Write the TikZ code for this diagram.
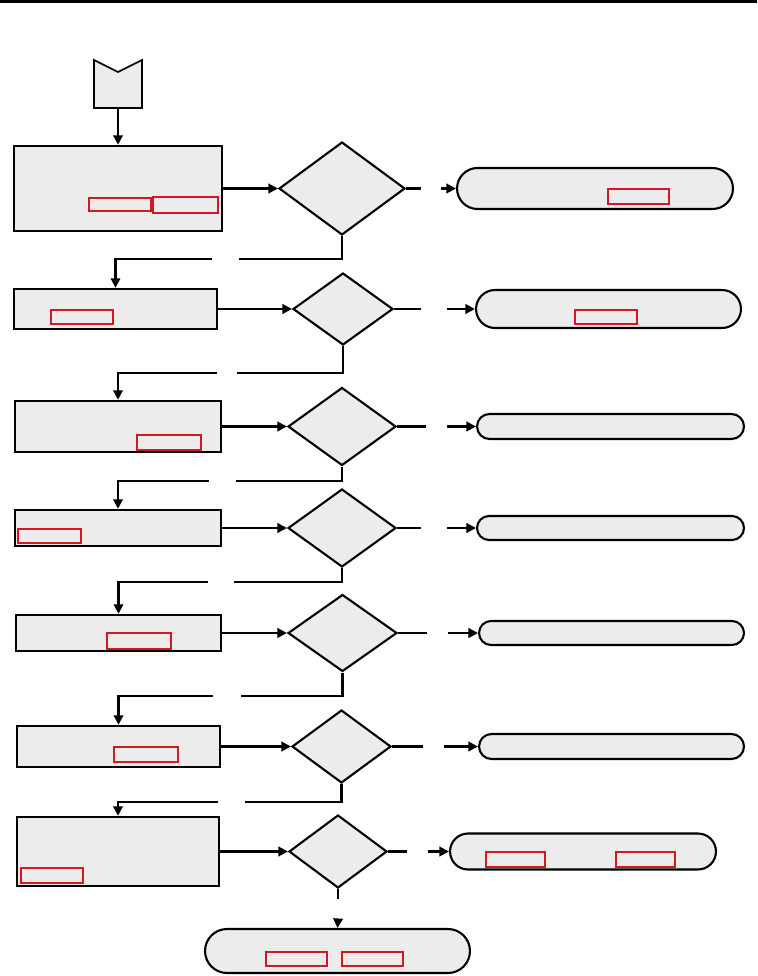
\documentclass[tikz,border=0pt]{standalone}
\usetikzlibrary{arrows.meta, positioning, shapes.geometric, shapes.misc}
\definecolor{linkred}{RGB}{210,25,35}

\begin{document}
\begin{tikzpicture}[x=0.02cm, y=-0.02cm,
    plain/.style={line width=1.2pt},
    flow/.style={line width=1.2pt, -{Triangle[length=1.9mm, width=1.9mm]}},
    procbox/.style={draw, rectangle, line width=1.4pt, fill=gray!15, inner sep=0},
    decision/.style={draw, diamond, line width=1.2pt, fill=gray!15, inner sep=0},
    terminal/.style={draw, rounded rectangle, line width=1.2pt, fill=gray!15, inner sep=0},
    linkbox/.style={draw=linkred, line width=0.7pt}]

\useasboundingbox (0,0) rectangle (757,976);
\fill (0,0) rectangle (757,3);

% --- Start connector ---
\filldraw[fill=gray!15, line width=0.9pt] (94,60) -- (118,72) -- (142,60) -- (142,108) -- (94,108) -- cycle;
\coordinate (start) at (118,108);

% --- Process boxes ---
\node[procbox, minimum width=4.16cm, minimum height=1.70cm] (b1) at (118,188.5) {};
\node[procbox, minimum width=4.06cm, minimum height=0.80cm] (b2) at (115.5,309) {};
\node[procbox, minimum width=4.12cm, minimum height=1.02cm] (b3) at (118,426.5) {};
\node[procbox, minimum width=4.12cm, minimum height=0.72cm] (b4) at (118,528) {};
\node[procbox, minimum width=4.10cm, minimum height=0.72cm] (b5) at (118.5,633) {};
\node[procbox, minimum width=4.06cm, minimum height=0.82cm] (b6) at (118.5,746.5) {};
\node[procbox, minimum width=4.04cm, minimum height=1.38cm] (b7) at (118,851.5) {};

% --- Decisions ---
\node[decision, minimum width=2.52cm, minimum height=1.86cm] (d1) at (342,188.5) {};
\node[decision, minimum width=2.00cm, minimum height=1.44cm] (d2) at (343,309) {};
\node[decision, minimum width=2.16cm, minimum height=1.56cm] (d3) at (342,426.5) {};
\node[decision, minimum width=2.16cm, minimum height=1.56cm] (d4) at (342,528) {};
\node[decision, minimum width=2.18cm, minimum height=1.54cm] (d5) at (342.5,633) {};
\node[decision, minimum width=1.98cm, minimum height=1.46cm] (d6) at (341.5,746.5) {};
\node[decision, minimum width=1.96cm, minimum height=1.46cm] (d7) at (338,851.5) {};

% --- End states ---
\node[terminal, minimum width=5.52cm, minimum height=0.82cm] (r1) at (595,188.5) {};
\node[terminal, minimum width=5.30cm, minimum height=0.76cm] (r2) at (608.5,309) {};
\node[terminal, minimum width=5.34cm, minimum height=0.50cm] (r3) at (610.5,426.5) {};
\node[terminal, minimum width=5.34cm, minimum height=0.48cm] (r4) at (610.5,528) {};
\node[terminal, minimum width=5.30cm, minimum height=0.48cm] (r5) at (611.5,633) {};
\node[terminal, minimum width=5.30cm, minimum height=0.50cm] (r6) at (611.5,746.5) {};
\node[terminal, minimum width=5.32cm, minimum height=0.72cm] (r7) at (583,851.5) {};
\node[terminal, minimum width=5.30cm, minimum height=0.88cm] (fin) at (337.5,951) {};

% --- Link frames ---
\draw[linkbox] (89,198) rectangle (151,211);
\draw[linkbox] (153,197) rectangle (218,213);
\draw[linkbox] (608,189) rectangle (669,204);
\draw[linkbox] (51,310) rectangle (113,324);
\draw[linkbox] (575,310) rectangle (637,324);
\draw[linkbox] (137,435) rectangle (201,450);
\draw[linkbox] (18,529) rectangle (81,543);
\draw[linkbox] (107,633) rectangle (171,649);
\draw[linkbox] (114,747) rectangle (178,762);
\draw[linkbox] (21,868) rectangle (83,883);
\draw[linkbox] (486,852) rectangle (545,867);
\draw[linkbox] (616,852) rectangle (675,867);
\draw[linkbox] (266,952) rectangle (327,966);
\draw[linkbox] (342,952) rectangle (403,966);

% --- Main flow ---
\draw[flow] (start) -- (b1.north);
\draw[flow] (b1.east) -- (d1.west);
\draw[flow] (b2.east) -- (d2.west);
\draw[flow] (b3.east) -- (d3.west);
\draw[flow] (b4.east) -- (d4.west);
\draw[flow] (b5.east) -- (d5.west);
\draw[flow] (b6.east) -- (d6.west);
\draw[flow] (b7.east) -- (d7.west);

% --- Side exits (gap left for label) ---
\coordinate (e1a) at (421,188.5); \coordinate (e1b) at (441,188.5);
\coordinate (e2a) at (421,309);   \coordinate (e2b) at (447,309);
\coordinate (e3a) at (426,426.5); \coordinate (e3b) at (447,426.5);
\coordinate (e4a) at (421,528);   \coordinate (e4b) at (447,528);
\coordinate (e5a) at (427,633);   \coordinate (e5b) at (448,633);
\coordinate (e6a) at (423,746.5); \coordinate (e6b) at (444,746.5);
\coordinate (e7a) at (407,851.5); \coordinate (e7b) at (428,851.5);
\draw[plain] (d1.east) -- (e1a); \draw[flow] (e1b) -- (r1.west);
\draw[plain] (d2.east) -- (e2a); \draw[flow] (e2b) -- (r2.west);
\draw[plain] (d3.east) -- (e3a); \draw[flow] (e3b) -- (r3.west);
\draw[plain] (d4.east) -- (e4a); \draw[flow] (e4b) -- (r4.west);
\draw[plain] (d5.east) -- (e5a); \draw[flow] (e5b) -- (r5.west);
\draw[plain] (d6.east) -- (e6a); \draw[flow] (e6b) -- (r6.west);
\draw[plain] (d7.east) -- (e7a); \draw[flow] (e7b) -- (r7.west);

% --- Return to next step ---
\coordinate (n1a) at (239,259); \coordinate (n1b) at (212,259);
\coordinate (n2a) at (237,373); \coordinate (n2b) at (217,373);
\coordinate (n3a) at (236,481); \coordinate (n3b) at (209,481);
\coordinate (n4a) at (234,582); \coordinate (n4b) at (208,582);
\coordinate (n5a) at (241,696); \coordinate (n5b) at (213,696);
\coordinate (n6a) at (245,802); \coordinate (n6b) at (218,802);
\draw[plain] (d1.south) |- (n1a); \draw[flow] (n1b) -| (b2.north);
\draw[plain] (d2.south) |- (n2a); \draw[flow] (n2b) -| (b3.north);
\draw[plain] (d3.south) |- (n3a); \draw[flow] (n3b) -| (b4.north);
\draw[plain] (d4.south) |- (n4a); \draw[flow] (n4b) -| (b5.north);
\draw[plain] (d5.south) |- (n5a); \draw[flow] (n5b) -| (b6.north);
\draw[plain] (d6.south) |- (n6a); \draw[flow] (n6b) -| (b7.north);

\coordinate (n7a) at (338,899); \coordinate (n7b) at (338,920);
\draw[plain] (d7.south) -- (n7a); \draw[flow] (n7b) -- (fin.north);

\end{tikzpicture}
\end{document}
